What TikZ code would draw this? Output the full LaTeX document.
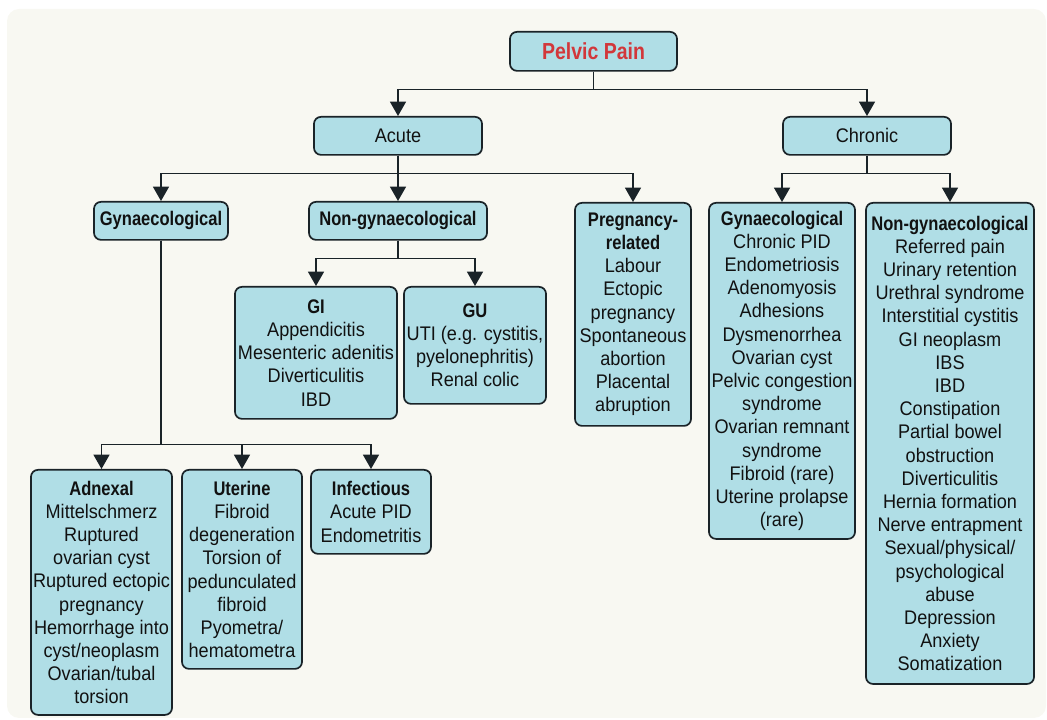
\documentclass[tikz,border=0pt]{standalone}
\usepackage{fontspec}
\setmainfont{Liberation Sans}[FakeStretch=0.92,BoldFeatures={FakeStretch=0.84}]
\usetikzlibrary{arrows.meta,positioning}
\definecolor{ink}{HTML}{111111}
\definecolor{edge}{HTML}{1A2328}
\definecolor{boxfill}{HTML}{B0DEE6}
\definecolor{panelfill}{HTML}{F8F8F2}
\definecolor{painred}{HTML}{D2373A}
\newcommand{\boxtext}{\fontsize{14}{16.5}\selectfont}
\newcommand{\roottext}{\fontsize{16.5}{19}\selectfont}
\tikzset{
 every node/.append style={font=\boxtext,text=ink,align=center},
 box/.style={draw=edge,fill=boxfill,rounded corners=5pt,line width=1.2pt,inner xsep=1pt,inner ysep=3pt,anchor=north},
 root/.style={box,font=\roottext\bfseries,text=painred},
 panel/.style={fill=panelfill,rounded corners=0.3cm},
 flow/.style={-{Triangle[length=3.6mm,width=4mm]},draw=edge,line width=1.1pt},
}
\begin{document}
\begin{tikzpicture}[x=0.025cm,y=-0.025cm]

\useasboundingbox (0,0) rectangle (1047,720);
\fill[panel] (7,9) rectangle (1046,718);
\node[root,minimum width=4.175cm,minimum height=0.975cm] (pain) at (593.5,31) {Pelvic Pain};
\node[box,minimum width=4.2cm,minimum height=0.95cm] (acute) at (398,116) {Acute};
\node[box,minimum width=4.2cm,minimum height=0.95cm] (chronic) at (867,116) {Chronic};
\node[box,minimum width=3.35cm,minimum height=0.95cm] (agyn) at (161,201) {\textbf{Gynaecological}};
\node[box,minimum width=4.45cm,minimum height=0.95cm] (anongyn) at (398,201) {\textbf{Non-gynaecological}};
\node[box,minimum width=2.9cm,minimum height=5.575cm] (preg) at (633,202) {\textbf{Pregnancy-}\\\textbf{related}\\Labour\\Ectopic\\pregnancy\\Spontaneous\\abortion\\Placental\\abruption};
\node[box,minimum width=4.05cm,minimum height=3.3cm] (gi) at (316,286) {\textbf{GI}\\Appendicitis\\Mesenteric adenitis\\Diverticulitis\\IBD};
\node[box,minimum width=3.55cm,minimum height=2.925cm] (gu) at (475,286) {\textbf{GU}\\UTI (e.g. cystitis,\\pyelonephritis)\\Renal colic};
\node[box,minimum width=3.525cm,minimum height=6.125cm] (adnexal) at (101.5,469) {\textbf{Adnexal}\\Mittelschmerz\\Ruptured\\ovarian cyst\\Ruptured ectopic\\pregnancy\\Hemorrhage into\\cyst/neoplasm\\Ovarian/tubal\\torsion};
\node[box,minimum width=3cm,minimum height=4.975cm] (uterine) at (242,469) {\textbf{Uterine}\\Fibroid\\degeneration\\Torsion of\\pedunculated\\fibroid\\Pyometra/\\hematometra};
\node[box,minimum width=3cm,minimum height=2.1cm] (infect) at (371,469) {\textbf{Infectious}\\Acute PID\\Endometritis};
\node[box,minimum width=3.65cm,minimum height=8.4cm] (cgyn) at (782,202) {\textbf{Gynaecological}\\Chronic PID\\Endometriosis\\Adenomyosis\\Adhesions\\Dysmenorrhea\\Ovarian cyst\\Pelvic congestion\\syndrome\\Ovarian remnant\\syndrome\\Fibroid (rare)\\Uterine prolapse\\(rare)};
\node[box,minimum width=4.2cm,minimum height=12.025cm] (cnongyn) at (950,202) {\textbf{Non-gynaecological}\\Referred pain\\Urinary retention\\Urethral syndrome\\Interstitial cystitis\\GI neoplasm\\IBS\\IBD\\Constipation\\Partial bowel\\obstruction\\Diverticulitis\\Hernia formation\\Nerve entrapment\\Sexual/physical/\\psychological\\abuse\\Depression\\Anxiety\\Somatization};
\draw[flow] (pain.south) -- ++(0,18) -| (acute.north);
\draw[flow] (pain.south) -- ++(0,18) -| (chronic.north);
\draw[flow] (acute.south) -- ++(0,18) -| (agyn.north);
\draw[flow] (acute.south) -- (anongyn.north);
\draw[flow] (acute.south) -- ++(0,18) -| (preg.north);
\draw[flow] (chronic.south) -- ++(0,18) -| (cgyn.north);
\draw[flow] (chronic.south) -- ++(0,18) -| (cnongyn.north);
\draw[flow] (anongyn.south) -- ++(0,18) -| (gi.north);
\draw[flow] (anongyn.south) -- ++(0,18) -| (gu.north);
\draw[flow] (agyn.south) -- ++(0,204) -| (adnexal.north);
\draw[flow] (agyn.south) -- ++(0,204) -| (uterine.north);
\draw[flow] (agyn.south) -- ++(0,204) -| (infect.north);

\end{tikzpicture}
\end{document}
